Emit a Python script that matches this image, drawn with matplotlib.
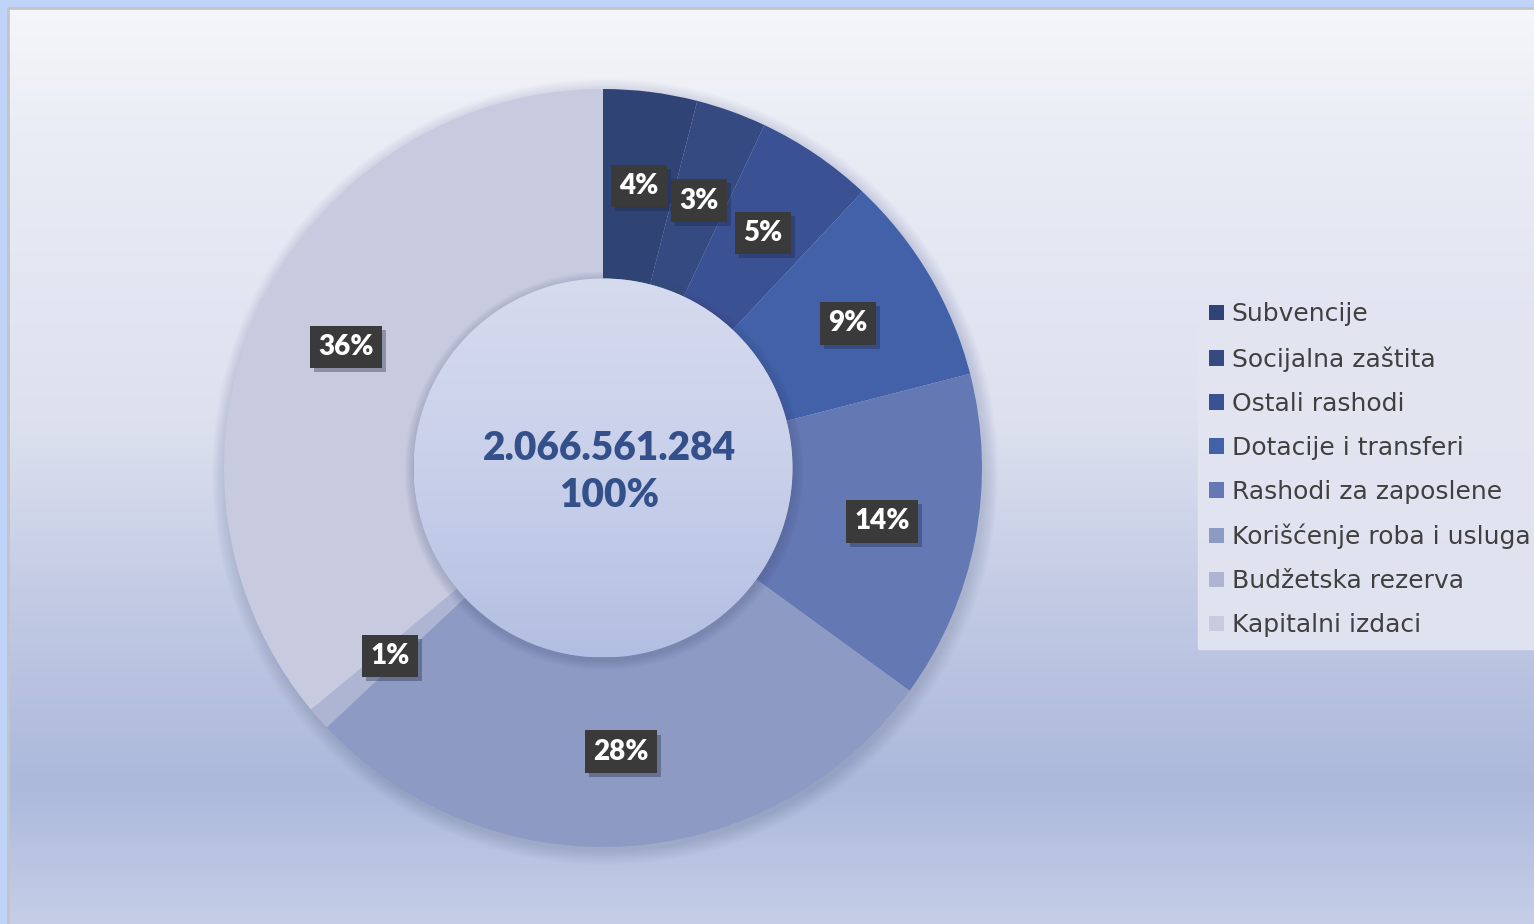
import numpy as np
import matplotlib
matplotlib.use("Agg")
import matplotlib.pyplot as plt
from matplotlib.colors import LinearSegmentedColormap
from matplotlib.patches import Circle
import matplotlib.patheffects as pe

# data
categories = ["Subvencije", "Socijalna zaštita", "Ostali rashodi", "Dotacije i transferi",
              "Rashodi za zaposlene", "Korišćenje roba i usluga", "Budžetska rezerva",
              "Kapitalni izdaci"]
shares = [4, 3, 5, 9, 14, 28, 1, 36]
total_label = "2.066.561.284"
colors = ["#2f4475", "#344a80", "#3a5294", "#4261a8", "#6478b4", "#8d9ac3", "#aeb5d3", "#c8cadf"]

W, H = 1534, 924
fig = plt.figure(figsize=(W / 100, H / 100), dpi=100)
fig.patch.set_facecolor("#bfd4f8")
ax = fig.add_axes([0, 0, 1, 1])
ax.set_axis_off()

# panel background gradient (light top -> blue -> slightly lighter bottom)
bg = LinearSegmentedColormap.from_list("bg", [
    (0.0, "#c6cee7"), (0.15, "#acb9db"), (0.35, "#c2cae4"),
    (0.55, "#dde1ef"), (0.87, "#eaedf5"), (1.0, "#f5f6fa")])
grad = np.linspace(0, 1, 256).reshape(-1, 1)
ax.imshow(grad, cmap=bg, origin="lower", aspect="auto",
          extent=(8, W, 0, H - 8), zorder=0)
ax.plot([8, 8, W], [0, H - 8, H - 8], color="#c4c4c4", lw=2, zorder=1)

cx, cy, R = 603, H - 468, 379

# soft shadow behind the donut
for i in range(12):
    ax.add_patch(Circle((cx + 2, cy - 4), R + 14 - i * 1.2, color="#5a6690",
                        alpha=0.018, lw=0, zorder=2))

wedges, _, autotexts = ax.pie(
    shares, colors=colors, startangle=90, counterclock=False,
    radius=R, center=(cx, cy), autopct="%d%%", pctdistance=0.75,
    wedgeprops=dict(width=R * 0.5, linewidth=0),
    textprops=dict(color="white", fontsize=20, fontweight="heavy", family="Lato"))
for w in wedges:
    w.set_zorder(3)
for t in autotexts:
    t.set_zorder(5)
    t.set_bbox(dict(boxstyle="square,pad=0.3", facecolor="#3a3a3a", edgecolor="none"))
    t.get_bbox_patch().set_path_effects([
        pe.SimplePatchShadow(offset=(3, -3), shadow_rgbFace="#1c2440", alpha=0.35),
        pe.Normal()])

# inner hole with its own gradient and a soft shadow cast onto the ring
hole_r = R * 0.5
hole_cmap = LinearSegmentedColormap.from_list("hole", ["#b3bfe2", "#c9d0ea", "#d6dbee"])
for i in range(10):
    ax.add_patch(Circle((cx + 1, cy - 3), hole_r + 10 - i, color="#3e4a78",
                        alpha=0.022, lw=0, zorder=3.5))
im = ax.imshow(grad, cmap=hole_cmap, origin="lower", aspect="auto",
               extent=(cx - hole_r, cx + hole_r, cy - hole_r, cy + hole_r), zorder=4)
clip = Circle((cx, cy), hole_r, transform=ax.transData)
im.set_clip_path(clip)

ax.text(cx + 6, cy - 4, total_label + "\n100%", ha="center", va="center",
        fontsize=28, fontweight="heavy", color="#34508a", family="Lato",
        linespacing=1.33, zorder=6)

ax.set_xlim(0, W)
ax.set_ylim(0, H)
ax.set_aspect("auto")

leg = ax.legend(wedges, categories, loc="upper left",
                bbox_to_anchor=(1198 / W, 1 - 291 / H), bbox_transform=fig.transFigure,
                frameon=True, fancybox=False,
                prop=dict(family="DejaVu Sans", size=18),
                handlelength=0.6, handleheight=0.6, handletextpad=0.3,
                labelspacing=0.8, borderpad=0.45, borderaxespad=0)
leg.get_frame().set_facecolor("#e3e6f1")
leg.get_frame().set_edgecolor("#e3e6f1")
leg.get_frame().set_alpha(0.9)
for txt in leg.get_texts():
    txt.set_color("#404040")
leg.set_zorder(7)

fig.savefig("out.png", dpi=100, facecolor=fig.get_facecolor())
